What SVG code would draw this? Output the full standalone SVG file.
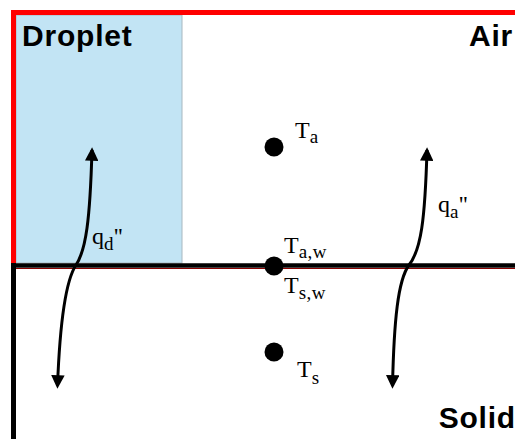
<svg xmlns="http://www.w3.org/2000/svg" width="515" height="439" viewBox="0 0 515 439">
<defs>
<style>
.region{font-family:"Liberation Sans","Noto Sans",sans-serif;font-weight:bold;font-size:30px;letter-spacing:0.8px;fill:#000}
.lbl{font-family:"Liberation Serif","DejaVu Serif",serif;font-size:24px;fill:#000}
.sub{font-size:19px;letter-spacing:0.5px}
.flux{fill:none;stroke:#000;stroke-width:3}
.dot{fill:#000}
</style>
<marker id="ah" viewBox="0 0 10 10" refX="8" refY="5" markerWidth="4.5" markerHeight="4.5" orient="auto-start-reverse" markerUnits="strokeWidth">
<path d="M0,0 L10,5 L0,10 z" fill="#000"/>
</marker>
</defs>
<rect x="0" y="0" width="515" height="439" fill="#fff"/>
<g id="droplet">
<rect x="16" y="15" width="166" height="248" fill="#c2e4f4" stroke="#a8b8c0" stroke-width="1"/>
<text class="region" x="22" y="46">Droplet</text>
</g>
<g id="air-boundary">
<path d="M13.5,265 V12.5 H515" fill="none" stroke="#f00" stroke-width="5"/>
<text class="region" x="513" y="46" text-anchor="end">Air</text>
</g>
<g id="interface">
<line x1="11" y1="268.5" x2="515" y2="268.5" stroke="#8b0000" stroke-width="1"/>
<line x1="11" y1="265.5" x2="515" y2="265.5" stroke="#000" stroke-width="4.5"/>
</g>
<g id="solid">
<line x1="13.5" y1="263" x2="13.5" y2="439" stroke="#000" stroke-width="5"/>
<text class="region" x="516" y="428" text-anchor="end">Solid</text>
</g>
<g id="Ta">
<circle class="dot" cx="274" cy="147" r="9.5"/>
<text class="lbl" x="295" y="138">T<tspan class="sub" dy="5">a</tspan></text>
</g>
<g id="Taw">
<circle class="dot" cx="274" cy="266" r="9.5"/>
<text class="lbl" x="284" y="253">T<tspan class="sub" dy="5">a,w</tspan></text>
</g>
<g id="Tsw">
<text class="lbl" x="284" y="293">T<tspan class="sub" dy="6">s,w</tspan></text>
</g>
<g id="Ts">
<circle class="dot" cx="274" cy="352" r="9.5"/>
<text class="lbl" x="297" y="377">T<tspan class="sub" dy="7">s</tspan></text>
</g>
<g id="connectors">
<path class="flux" d="M92,150 C90,220 86,250 76,265 C66,280 60,320 57.5,386" marker-start="url(#ah)" marker-end="url(#ah)"/>
<path class="flux" d="M427,150 C425,220 421,250 409,265 C398,280 394,320 392.5,386" marker-start="url(#ah)" marker-end="url(#ah)"/>
</g>
<g id="qd">
<text class="lbl" x="92" y="244">q<tspan class="sub" dy="6">d</tspan><tspan dy="-6">''</tspan></text>
</g>
<g id="qa">
<text class="lbl" x="438" y="212">q<tspan class="sub" dy="6">a</tspan><tspan dy="-6">''</tspan></text>
</g>
</svg>
